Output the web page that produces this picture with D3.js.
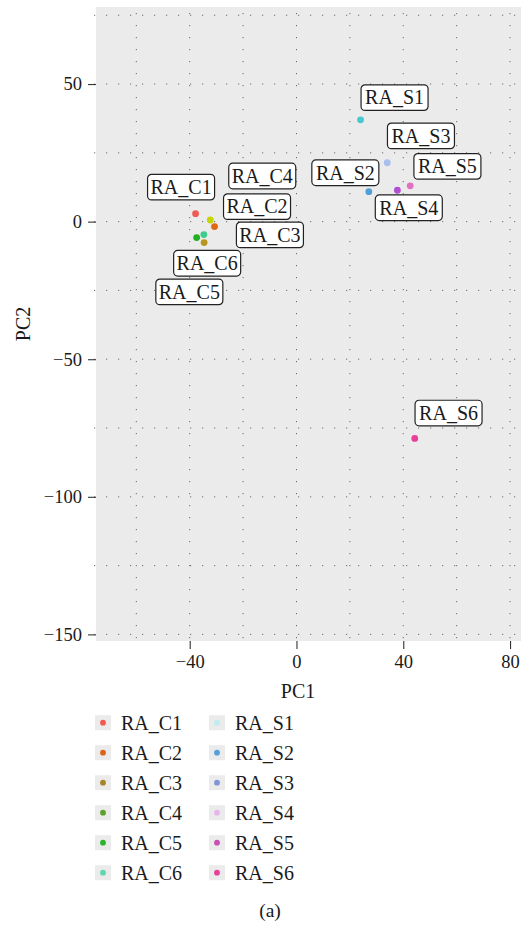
<!DOCTYPE html>
<html>
<head>
<meta charset="utf-8">
<script src="https://d3js.org/d3.v7.min.js"></script>
<style>
body { margin: 0; background: #fff; }
.grid line { stroke: #6b6b6b; stroke-width: 1px; stroke-dasharray: 1.2 10.8; }
.axis path { display: none; }
.axis line { stroke: #333; stroke-width: 1.1px; }
</style>
</head>
<body>
<svg></svg>
<script>

// samples and their PCA scores
var samples = ["RA_C1", "RA_C2", "RA_C3", "RA_C4", "RA_C5", "RA_C6",
               "RA_S1", "RA_S2", "RA_S3", "RA_S4", "RA_S5", "RA_S6"];
var pc1 = [-37.8, -30.7, -34.6, -32.3, -37.4, -34.7, 24.0, 27.1, 34.0, 37.8, 42.6, 44.3];
var pc2 = [2.9, -1.8, -7.6, 0.6, -5.8, -4.7, 37.0, 10.9, 21.4, 11.4, 13.0, -78.8];

var xTicks = [-40, 0, 40, 80];
var yTicks = [-150, -100, -50, 0, 50];
var xGrid = [-60, -40, -20, 0, 20, 40, 60, 80];
var yGrid = [-150, -125, -100, -75, -50, -25, 0, 25, 50, 75];

// colours (points in the panel and keys in the legend differ in the source)
var pointColors = ["#f05a56", "#e0680f", "#b8951f", "#c5d600", "#22b022", "#3dcc8c",
                   "#45c8d0", "#50a0d8", "#a8c0ee", "#b050d0", "#e070c0", "#e8409a"];
var legendColors = ["#f25a4e", "#d9651a", "#a88428", "#5fa02a", "#2bb52b", "#5ed6ae",
                    "#bdedf0", "#55a0d8", "#7f96d6", "#e5b5ec", "#cc4fb5", "#e8409a"];

// repelled label centres, pixel offsets from each point
var labelDx = [-14.5, 42.5, 65.8, 52, -7.3, 3.3, 34, -23.5, 33.7, 11.4, 37.2, 33.8];
var labelDy = [-26.5, -20, -7.7, -44, 54.3, 28.7, -22.2, -18.9, -26.9, 17.5, -19.5, -25.4];

var FONT = "'Liberation Serif'";
var W = 521, H = 925;
var svg = d3.select("svg").attr("width", W).attr("height", H);

var x = d3.scaleLinear().domain([-75.1, 84.1]).range([96, 521]);
var y = d3.scaleLinear().domain([-152.4, 78]).range([641, 7]);

// panel background
svg.append("rect")
    .attr("x", x.range()[0]).attr("y", y.range()[1])
    .attr("width", x.range()[1] - x.range()[0])
    .attr("height", y.range()[0] - y.range()[1])
    .attr("fill", "#ebebeb");

// dotted grid
var grid = svg.append("g").attr("class", "grid");
grid.selectAll(".vg").data(xGrid).enter().append("line")
    .attr("x1", function(d) { return x(d); }).attr("x2", function(d) { return x(d); })
    .attr("y1", y.range()[1] + 6).attr("y2", y.range()[0]);
grid.selectAll(".hg").data(yGrid).enter().append("line")
    .attr("y1", function(d) { return y(d); }).attr("y2", function(d) { return y(d); })
    .attr("x1", x.range()[0] - 2).attr("x2", x.range()[1]);

function minus(d) { return d < 0 ? "\u2212" + Math.abs(d) : d; }

// axes
svg.append("g").attr("class", "axis")
    .attr("transform", "translate(" + x.range()[0] + ",0)")
    .call(d3.axisLeft(y).tickValues(yTicks).tickSize(8).tickPadding(6).tickFormat(minus))
    .attr("font-family", null).attr("font-size", null);

svg.append("g").attr("class", "axis")
    .attr("transform", "translate(0," + y.range()[0] + ")")
    .call(d3.axisBottom(x).tickValues(xTicks).tickSize(8).tickPadding(6).tickFormat(minus))
    .attr("font-family", null).attr("font-size", null);

// axis titles
svg.append("text")
    .attr("x", 298).attr("y", 698)
    .attr("text-anchor", "middle")
    .style("font-size", "20px")
    .text("PC1");

svg.append("text")
    .attr("transform", "translate(30,324) rotate(-90)")
    .attr("text-anchor", "middle")
    .style("font-size", "20px")
    .text("PC2");

// points
svg.append("g").selectAll("circle")
    .data(samples).enter().append("circle")
    .attr("cx", function(d, i) { return x(pc1[i]); })
    .attr("cy", function(d, i) { return y(pc2[i]); })
    .attr("r", 3.4)
    .attr("fill", function(d, i) { return pointColors[i]; });

// labels
var lab = svg.append("g").selectAll("g")
    .data(samples).enter().append("g")
    .attr("transform", function(d, i) {
        return "translate(" + (x(pc1[i]) + labelDx[i]) + "," + (y(pc2[i]) + labelDy[i]) + ")";
    });
lab.append("rect")
    .attr("x", -33.5).attr("y", -12.8)
    .attr("width", 67).attr("height", 25.6)
    .attr("rx", 4).attr("ry", 4)
    .attr("fill", "#fff")
    .attr("stroke", "#222")
    .attr("stroke-width", 1.2);
lab.append("text")
    .attr("text-anchor", "middle")
    .attr("dy", "0.34em")
    .style("font-size", "20px")
    .text(function(d) { return d; });

// legend
var legend = svg.append("g").selectAll("g")
    .data(samples).enter().append("g")
    .attr("transform", function(d, i) {
        var col = Math.floor(i / 6), row = i % 6;
        return "translate(" + (95 + col * 114) + "," + (722.7 + row * 30) + ")";
    });
legend.append("rect")
    .attr("x", 0).attr("y", -7.5)
    .attr("width", 16).attr("height", 15)
    .attr("fill", "#ebebeb");
legend.append("circle")
    .attr("cx", 8).attr("cy", 0).attr("r", 2.9)
    .attr("fill", function(d, i) { return legendColors[i]; });
legend.append("text")
    .attr("x", 26).attr("dy", "0.34em")
    .style("font-size", "20px")
    .text(function(d) { return d; });

// panel caption
svg.append("text")
    .attr("x", 270).attr("y", 917)
    .attr("text-anchor", "middle")
    .style("font-size", "19.5px")
    .text("(a)");

// one serif face for all text
svg.selectAll("text")
    .attr("font-family", "Liberation Serif")
    .style("font-family", FONT)
    .style("fill", "#1a1a1a");
svg.selectAll(".axis text").style("font-size", "18.5px");

</script>
</body>
</html>
